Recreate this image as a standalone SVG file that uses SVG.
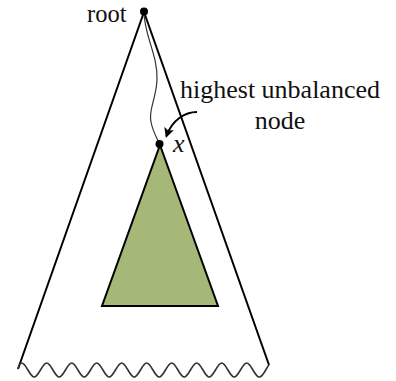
<svg xmlns="http://www.w3.org/2000/svg" width="396" height="381" viewBox="0 0 396 381">
<style>
.lbl{font-family:"Liberation Serif","Times New Roman",serif;font-size:26px;fill:#111;}
.dot{fill:#000;}
</style>
<defs>
<marker id="ah" markerWidth="10" markerHeight="10" refX="8" refY="5" orient="auto" markerUnits="userSpaceOnUse">
<path d="M0,0 L10,5 L0,10 L2.5,5 Z" fill="#000"/>
</marker>
</defs>
<rect width="396" height="381" fill="#fff"/>
<g id="outer-tree">
<path d="M144,12 L18,369" fill="none" stroke="#000" stroke-width="2"/>
<path d="M144,12 L269,365" fill="none" stroke="#000" stroke-width="2"/>
<path d="M18,369 Q19.5,363 21.7,363 C26.25,363 29.65,377 34.2,377 S42.15,363 46.7,363 S54.65,377 59.2,377 S67.15,363 71.7,363 S79.65,377 84.2,377 S92.15,363 96.7,363 S104.65,377 109.2,377 S117.15,363 121.7,363 S129.65,377 134.2,377 S142.15,363 146.7,363 S154.65,377 159.2,377 S167.15,363 171.7,363 S179.65,377 184.2,377 S192.15,363 196.7,363 S204.65,377 209.2,377 S217.15,363 221.7,363 S229.65,377 234.2,377 S242.15,363 246.7,363 S254.65,377 259.2,377 C263.5,377 266.5,367 269,365" fill="none" stroke="#333" stroke-width="1.6"/>
</g>
<g id="subtree">
<path d="M160,145 L218,306 L102,306 Z" fill="#a5b878" stroke="#000" stroke-width="2" stroke-linejoin="miter"/>
</g>
<g id="connectors">
<path d="M144,12 C144,35 158,55 157,80 C156,100 148,110 151,122 C153,132 157,138 159,143" fill="none" stroke="#333" stroke-width="1.2"/>
<path d="M197,112 C185,112 172,120 166.5,136" fill="none" stroke="#000" stroke-width="2" marker-end="url(#ah)"/>
</g>
<g id="root">
<circle class="dot" cx="144" cy="11.5" r="4"/>
<text class="lbl" x="87" y="22" style="font-size:24.5px">root</text>
</g>
<g id="node-x">
<circle class="dot" cx="159.5" cy="144" r="4"/>
<text class="lbl" x="173" y="152" style="font-style:italic">x</text>
</g>
<g id="label">
<text class="lbl" x="280" y="98" text-anchor="middle">highest unbalanced</text>
<text class="lbl" x="280" y="129" text-anchor="middle">node</text>
</g>
</svg>
